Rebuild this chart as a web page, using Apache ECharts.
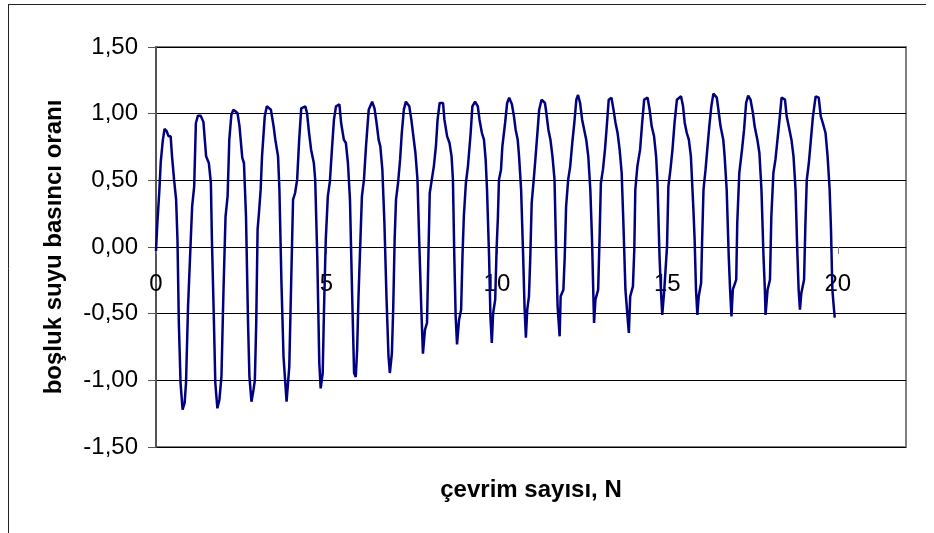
<!DOCTYPE html>
<html>
<head>
<meta charset="utf-8">
<script src="https://cdn.jsdelivr.net/npm/echarts@6/dist/echarts.min.js"></script>
<style>
html,body{margin:0;padding:0;background:#fff;}
#c{width:934px;height:533px;}
</style>
</head>
<body>
<div id="c"></div>
<script>
// cycles 0-3
const part1 = [[0,-0.03],[0.04,0.18],[0.10,0.43],[0.14,0.64],[0.20,0.80],[0.25,0.885],[0.31,0.87],[0.37,0.83],[0.43,0.83],[0.47,0.68],[0.53,0.505],[0.59,0.355],[0.63,0.055],[0.67,-0.57],[0.72,-1.02],[0.78,-1.22],[0.84,-1.17],[0.88,-1.02],[0.94,-0.445],[1.02,0.055],[1.06,0.305],[1.12,0.455],[1.17,0.93],[1.23,0.985],[1.31,0.985],[1.39,0.94],[1.47,0.68],[1.55,0.63],[1.61,0.48],[1.64,0.055],[1.70,-0.57],[1.74,-1.02],[1.80,-1.21],[1.86,-1.145],[1.92,-0.97],[1.98,-0.32],[2.04,0.23],[2.10,0.38],[2.15,0.805],[2.21,0.99],[2.27,1.03],[2.39,1.005],[2.45,0.905],[2.53,0.67],[2.58,0.63],[2.64,0.23],[2.70,-0.57],[2.74,-0.97],[2.80,-1.16],[2.86,-1.07],[2.90,-1.0],[2.94,-0.57],[2.98,0.13],[3.02,0.255],[3.07,0.43],[3.11,0.68],[3.19,0.98],[3.25,1.055],[3.37,1.03],[3.45,0.905],[3.50,0.805],[3.58,0.68],[3.62,0.43],[3.68,-0.27],[3.74,-0.82],[3.83,-1.16]];
// cycles 4-7
const part2 = [[3.91,-0.895],[3.96,-0.32],[4.02,0.355],[4.08,0.405],[4.14,0.505],[4.20,0.805],[4.26,1.04],[4.38,1.055],[4.43,1.005],[4.49,0.855],[4.55,0.73],[4.63,0.63],[4.67,0.505],[4.73,-0.07],[4.79,-0.87],[4.83,-1.06],[4.89,-0.945],[4.93,-0.445],[4.98,0.055],[5.04,0.38],[5.10,0.49],[5.16,0.73],[5.22,0.955],[5.28,1.055],[5.38,1.07],[5.43,0.93],[5.51,0.805],[5.57,0.78],[5.63,0.63],[5.69,0.355],[5.75,-0.32],[5.81,-0.945],[5.86,-0.975],[5.90,-0.77],[5.94,-0.37],[6.00,0.08],[6.04,0.38],[6.10,0.505],[6.16,0.755],[6.24,1.03],[6.34,1.09],[6.41,1.04],[6.47,0.93],[6.53,0.805],[6.58,0.755],[6.64,0.58],[6.70,0.18],[6.76,-0.37],[6.82,-0.82],[6.86,-0.945],[6.92,-0.795],[6.96,-0.445],[7.00,0.055],[7.04,0.355],[7.10,0.48],[7.16,0.655],[7.21,0.855],[7.27,1.03],[7.33,1.09],[7.43,1.055],[7.49,0.955],[7.55,0.83],[7.61,0.705],[7.67,0.505],[7.72,0.055],[7.78,-0.445],[7.83,-0.80]];
// cycles 8-11
const part3 = [[7.89,-0.62],[7.95,-0.57],[7.99,-0.07],[8.03,0.405],[8.09,0.505],[8.15,0.605],[8.21,0.755],[8.26,0.955],[8.32,1.08],[8.42,1.08],[8.46,0.955],[8.54,0.83],[8.61,0.78],[8.67,0.68],[8.71,0.505],[8.75,-0.07],[8.79,-0.52],[8.83,-0.73],[8.89,-0.545],[8.95,-0.47],[8.99,-0.07],[9.03,0.23],[9.09,0.48],[9.15,0.605],[9.23,0.855],[9.28,1.055],[9.36,1.09],[9.44,1.055],[9.49,0.955],[9.56,0.855],[9.62,0.805],[9.67,0.655],[9.71,0.43],[9.77,-0.07],[9.81,-0.52],[9.85,-0.72],[9.89,-0.495],[9.95,-0.395],[9.99,-0.02],[10.03,0.23],[10.06,0.505],[10.12,0.58],[10.16,0.755],[10.24,0.93],[10.30,1.08],[10.36,1.12],[10.44,1.07],[10.50,0.98],[10.55,0.88],[10.61,0.805],[10.65,0.68],[10.71,0.43],[10.77,-0.07],[10.81,-0.445],[10.85,-0.68],[10.89,-0.47],[10.94,-0.37],[10.98,-0.07],[11.02,0.33],[11.08,0.505],[11.12,0.63],[11.18,0.83],[11.24,1.03],[11.31,1.105],[11.41,1.08],[11.45,1.005],[11.51,0.88],[11.57,0.805],[11.63,0.68],[11.69,0.505],[11.74,-0.07],[11.78,-0.445],[11.84,-0.67]];
// cycles 12-15
const part4 = [[11.87,-0.37],[11.95,-0.32],[11.99,-0.07],[12.03,0.305],[12.09,0.505],[12.15,0.605],[12.21,0.78],[12.27,0.93],[12.33,1.105],[12.38,1.14],[12.44,1.08],[12.50,0.955],[12.56,0.88],[12.62,0.805],[12.68,0.68],[12.74,0.43],[12.79,0.055],[12.83,-0.37],[12.85,-0.57],[12.89,-0.395],[12.97,-0.32],[13.01,0.055],[13.05,0.48],[13.11,0.58],[13.17,0.73],[13.23,0.93],[13.28,1.105],[13.36,1.12],[13.42,1.03],[13.48,0.93],[13.54,0.855],[13.60,0.73],[13.66,0.555],[13.71,0.18],[13.77,-0.32],[13.83,-0.52],[13.87,-0.645],[13.91,-0.37],[13.99,-0.295],[14.03,-0.02],[14.06,0.43],[14.12,0.605],[14.20,0.73],[14.26,0.93],[14.32,1.105],[14.42,1.12],[14.48,1.03],[14.54,0.905],[14.61,0.83],[14.67,0.68],[14.71,0.48],[14.77,-0.07],[14.81,-0.32],[14.85,-0.51],[14.91,-0.32],[14.99,0.005],[15.03,0.455],[15.09,0.58],[15.15,0.73],[15.21,0.93],[15.28,1.105],[15.40,1.13],[15.46,1.055],[15.51,0.93],[15.57,0.855],[15.63,0.805],[15.69,0.68]];
// cycles 16-19
const part5 = [[15.76,0.305],[15.80,0.055],[15.84,-0.32],[15.88,-0.51],[15.92,-0.37],[15.99,-0.27],[16.02,0.055],[16.06,0.43],[16.12,0.58],[16.17,0.73],[16.23,0.905],[16.29,1.055],[16.35,1.15],[16.45,1.12],[16.51,1.005],[16.56,0.905],[16.64,0.805],[16.68,0.68],[16.74,0.43],[16.80,-0.07],[16.84,-0.32],[16.88,-0.52],[16.92,-0.32],[17.02,-0.245],[17.05,0.18],[17.11,0.555],[17.19,0.73],[17.25,0.88],[17.31,1.08],[17.37,1.135],[17.44,1.105],[17.51,1.005],[17.56,0.905],[17.64,0.805],[17.70,0.705],[17.76,0.43],[17.82,-0.07],[17.86,-0.32],[17.88,-0.51],[17.94,-0.32],[18.01,-0.245],[18.05,0.23],[18.11,0.555],[18.17,0.655],[18.23,0.805],[18.29,0.955],[18.35,1.12],[18.45,1.105],[18.50,0.98],[18.56,0.905],[18.64,0.805],[18.70,0.68],[18.76,0.43],[18.81,-0.02],[18.85,-0.32],[18.89,-0.47],[18.93,-0.345],[19.01,-0.245],[19.05,0.18],[19.09,0.505],[19.15,0.63],[19.21,0.805],[19.27,0.98],[19.35,1.13],[19.44,1.12],[19.50,0.98],[19.56,0.93],[19.64,0.855],[19.70,0.68],[19.76,0.43],[19.80,0.13],[19.84,-0.32],[19.88,-0.445],[19.91,-0.53]];

const xTicks = [0, 5, 10, 15, 20];
const yTicks = [-1.5, -1.0, -0.5, 0, 0.5, 1.0, 1.5];
const xTitle = 'çevrim sayısı, N';
const yTitle = 'boşluk suyu basıncı oranı';

const seriesData = [].concat(part1, part2, part3, part4, part5);

const chart = echarts.init(document.getElementById('c'), null, {renderer: 'canvas'});
const font = 'Arial, "Liberation Sans", sans-serif';
chart.setOption({
  animation: false,
  backgroundColor: '#fff',
  grid: {
    left: 156, top: 47, right: 28, bottom: 86,
    containLabel: false, outerBoundsMode: 'none',
    show: true, borderColor: '#808080', borderWidth: 2, backgroundColor: 'transparent'
  },
  xAxis: {
    type: 'value', min: 0, max: 22, interval: 5,
    position: 'bottom', offset: -200,
    name: xTitle, nameLocation: 'middle', nameGap: 231,
    nameTextStyle: {fontFamily: font, fontWeight: 'bold', fontSize: 24, color: '#000'},
    axisLine: {show: true, onZero: false, lineStyle: {color: '#000', width: 1}},
    axisTick: {show: true, inside: false, length: 7, lineStyle: {color: '#808080', width: 1}},
    axisLabel: {
      margin: 25, fontFamily: font, fontSize: 24, color: '#000',
      showMaxLabel: false, showMinLabel: true,
      formatter: v => xTicks.includes(v) ? String(v) : ''
    },
    splitLine: {show: false}
  },
  yAxis: {
    type: 'value', min: yTicks[0], max: yTicks[yTicks.length - 1], interval: 0.5,
    name: yTitle, nameLocation: 'middle', nameGap: 90, nameRotate: 90,
    nameTextStyle: {fontFamily: font, fontWeight: 'bold', fontSize: 24, color: '#000'},
    axisLine: {show: true, lineStyle: {color: '#555', width: 2}},
    axisTick: {show: true, inside: false, length: 8, lineStyle: {color: '#555', width: 1}},
    axisLabel: {
      margin: 18, fontFamily: font, fontSize: 24, color: '#000',
      formatter: v => v.toFixed(2).replace('.', ',')
    },
    splitLine: {show: true, lineStyle: {color: '#000', width: 1}}
  },
  graphic: [
    {type: 'line', shape: {x1: 8, y1: 4.5, x2: 926, y2: 4.5}, style: {stroke: '#222', lineWidth: 1}, silent: true},
    {type: 'line', shape: {x1: 8.5, y1: 4, x2: 8.5, y2: 533}, style: {stroke: '#222', lineWidth: 1}, silent: true}
  ],
  series: [{
    type: 'line',
    data: seriesData,
    showSymbol: false,
    symbol: 'none',
    smooth: false,
    lineStyle: {color: '#000080', width: 2.5},
    z: 5
  }]
});
</script>
</body>
</html>
